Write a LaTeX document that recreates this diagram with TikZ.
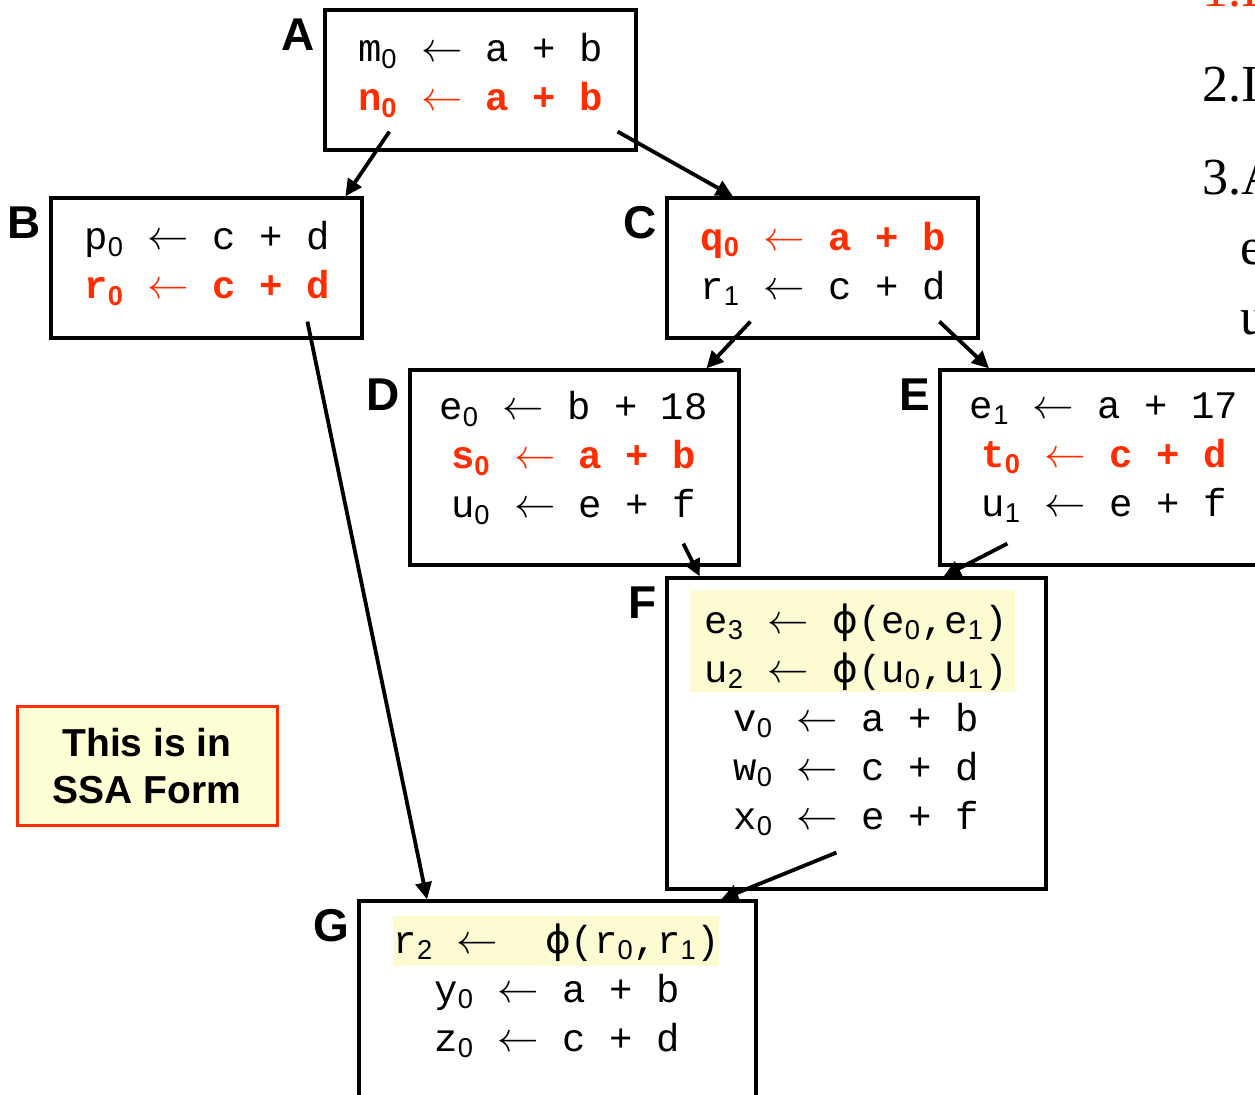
\documentclass[tikz,border=0pt]{standalone}
\usepackage{fontspec}
\setmainfont{Liberation Serif}
\setsansfont{Liberation Sans}
\setmonofont{Liberation Mono}
\newfontfamily\greekfont{DejaVu Sans}
\usepackage{tikz}
\usetikzlibrary{arrows.meta,positioning,calc}
\definecolor{ssared}{RGB}{255,45,0}
\definecolor{phiyel}{RGB}{252,251,210}
\definecolor{notefill}{RGB}{255,255,214}
\newcommand{\low}[1]{\textsubscript{\sffamily #1}}
\newcommand{\hot}[1]{{\color{ssared}\bfseries #1}}
\newcommand{\larr}{$\leftarrow$}
\newcommand{\phifn}{{\greekfont ϕ}}

\begin{document}
\begin{tikzpicture}[
    x=0.5pt, y=-0.5pt,
    >={Triangle[length=8.5pt,width=8pt]},
    block/.style={
        draw,
        line width=1.6pt,
        inner sep=0pt,
        minimum width=155.5pt,
        minimum height=70pt
    },
    code/.style={
        font=\ttfamily\fontsize{19.5pt}{24.5pt}\selectfont,
        align=center,
        inner sep=0pt
    },
    lbl/.style={
        font=\sffamily\bfseries\fontsize{23pt}{23pt}\selectfont,
        inner sep=0pt,
        anchor=north east
    },
    phibg/.style={fill=phiyel, inner sep=0pt},
    note/.style={
        draw=ssared,
        line width=1.5pt,
        fill=notefill,
        minimum width=130pt,
        minimum height=59.5pt,
        align=center,
        font=\sffamily\bfseries\fontsize{19.5pt}{23.5pt}\selectfont
    },
    crop/.style={
        font=\fontsize{26pt}{26pt}\selectfont,
        inner sep=0pt,
        anchor=base west
    },
    arr/.style={->, line width=1.9pt}
]
\useasboundingbox (0,0) rectangle (1255,1095);
\clip (0,0) rectangle (1255,1095);

% blocks
\node[block] (A) at (480.5,80) {};
\node[block] (B) at (206.5,268) {};
\node[block] (C) at (822.5,268) {};
\node[block, minimum width=164.5pt, minimum height=97.5pt] (D) at (574.5,467.5) {};
\node[block, minimum width=165pt, minimum height=97.5pt] (E) at (1105,467.5) {};
\node[block, minimum width=189.5pt, minimum height=155.5pt] (F) at (856.5,733.5) {};
\node[block, minimum width=198.5pt, minimum height=110pt] (G) at (557.5,1011) {};

% phi rows
\node[phibg, minimum width=162.5pt, minimum height=51pt] (hiF) at (852.5,641) {};
\node[phibg, minimum width=163pt, minimum height=25pt] (hiG) at (556,941) {};

% code
\node[code] (cA) at (480.5,75.5)
{m\low{0} \larr{} a + b\\
\hot{n\low{0} \larr{} a + b}};

\node[code] (cB) at (207,263.5)
{p\low{0} \larr{} c + d\\
\hot{r\low{0} \larr{} c + d}};

\node[code] (cC) at (823,263.5)
{\hot{q\low{0} \larr{} a + b}\\
r\low{1} \larr{} c + d};

\node[code] (cD) at (573.5,458)
{e\low{0} \larr{} b + 18\\
\hot{s\low{0} \larr{} a + b}\\
u\low{0} \larr{} e + f};

\node[code] (cE) at (1104,458)
{e\low{1} \larr{} a + 17\\
\hot{t\low{0} \larr{} c + d}\\
u\low{1} \larr{} e + f};

\node[code] (cF) at (856,719.5)
{e\low{3} \larr{} \phifn(e\low{0},e\low{1})\\
u\low{2} \larr{} \phifn(u\low{0},u\low{1})\\
v\low{0} \larr{} a + b\\
w\low{0} \larr{} c + d\\
x\low{0} \larr{} e + f};

\node[code] (cG) at (557,991)
{r\low{2} \larr{}~~\phifn(r\low{0},r\low{1})\\
y\low{0} \larr{} a + b\\
z\low{0} \larr{} c + d};

% block labels
\node[lbl] (lA) at ([xshift=-4pt,yshift=-5pt]A.north west) {A};
\node[lbl] (lB) at ([xshift=-4pt,yshift=-5pt]B.north west) {B};
\node[lbl] (lC) at ([xshift=-4pt,yshift=-5pt]C.north west) {C};
\node[lbl] (lD) at ([xshift=-4pt,yshift=-5pt]D.north west) {D};
\node[lbl] (lE) at ([xshift=-4pt,yshift=-5pt]E.north west) {E};
\node[lbl] (lF) at ([xshift=-4pt,yshift=-5pt]F.north west) {F};
\node[lbl] (lG) at ([xshift=-4pt,yshift=-5pt]G.north west) {G};

\node[note] (ssa) at (147,766) {This is in\\SSA Form};

% edge tails
\coordinate (tAB) at ($(A.south west)+(66,-20)$);
\coordinate (tAC) at ($(A.south east)+(-20,-20)$);
\coordinate (tBG) at ($(B.south west)+(258,-18)$);
\coordinate (tCD) at ($(C.south west)+(85,-18)$);
\coordinate (tCE) at ($(C.south west)+(274,-18)$);
\coordinate (tDF) at ($(D.south west)+(275,-23)$);
\coordinate (tEF) at ($(E.south west)+(69,-23)$);
\coordinate (tFG) at ($(F.south west)+(171,-38)$);

\draw[arr] (tAB) -- ($(B.north west)!0.942!(B.north east)$);
\draw[arr] (tAC) -- ($(C.north west)!0.215!(C.north east)$);
\draw[arr] (tBG) -- ($(G.north west)!0.174!(G.north east)$);
\draw[arr] (tCD) -- ($(D.north west)!0.897!(D.north east)$);
\draw[arr] (tCE) -- ($(E.north west)!0.152!(E.north east)$);
\draw[arr] (tDF) -- ($(F.north west)!0.09!(F.north east)$);
\draw[arr] (tEF) -- ($(F.north west)!0.728!(F.north east)$);
\draw[arr] (tFG) -- ($(G.north west)!0.909!(G.north east)$);

% slide text cut at the edge
\node[crop, text=ssared] (it1) at (1202,7) {1.I};
\node[crop] (it2) at (1202,102) {2.I};
\node[crop] (it3) at (1202,195) {3.A};
\node[crop] (it3e) at (1240,265) {e};
\node[crop] (it3u) at (1240,335) {u};

\end{tikzpicture}
\end{document}
